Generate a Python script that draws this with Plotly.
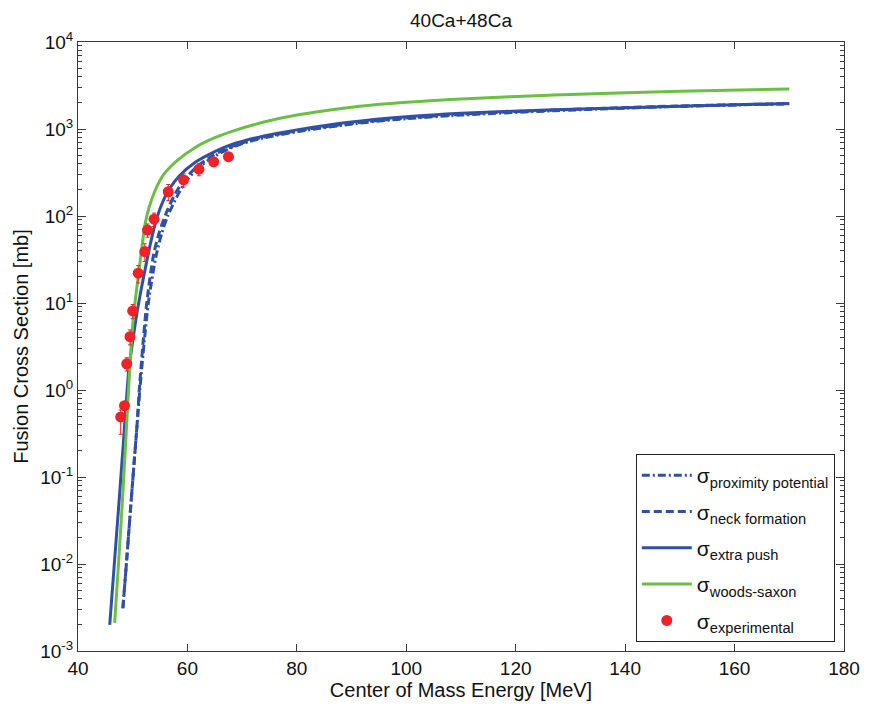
import plotly.graph_objects as go

# ---- data -----------------------------------------------------------------
# proximity potential model (dash-dot)
E_prox = [48.2, 48.9, 49.5, 50.2, 50.8, 51.3, 52.1, 52.9, 54.3, 55.3, 56.4, 58.4,
          60.0, 62.1, 64.5, 67.5, 71.0, 74.1, 80.2, 88.0, 96.4, 110.0, 127.0, 150.0, 170.0]
sig_prox = [0.0031, 0.0112, 0.0355, 0.132, 0.40, 1.0, 3.55, 10.5, 35.5, 63.0, 100.0, 182.0,
            263.0, 363.0, 468.0, 589.0, 708.0, 794.0, 933.0, 1096.0, 1259.0, 1445.0, 1622.0, 1820.0, 1950.0]

# neck formation model (dashed)
E_neck = [48.2, 48.9, 49.5, 50.2, 50.8, 51.2, 51.9, 52.6, 53.8, 54.8, 55.9, 57.8,
          59.5, 61.6, 64.0, 67.0, 70.5, 74.0, 80.0, 88.0, 96.4, 110.0, 127.0, 150.0, 170.0]
sig_neck = [0.0031, 0.0112, 0.0355, 0.132, 0.40, 1.0, 3.55, 10.5, 35.5, 63.0, 100.0, 182.0,
            263.0, 363.0, 468.0, 589.0, 708.0, 810.0, 950.0, 1120.0, 1280.0, 1480.0, 1650.0, 1840.0, 1960.0]

# extra push model (solid blue)
E_push = [45.8, 46.6, 47.5, 48.3, 49.3, 50.0, 50.6, 51.5, 52.4, 53.3, 54.2, 55.4, 56.6,
          58.5, 61.5, 65.0, 68.0, 74.0, 80.0, 90.0, 100.0, 110.0, 127.0, 150.0, 170.0]
sig_push = [0.0020, 0.0093, 0.052, 0.25, 1.74, 3.63, 6.6, 13.8, 26.9, 50.1, 85.1, 141.0, 200.0,
            288.0, 417.0, 550.0, 661.0, 832.0, 977.0, 1202.0, 1380.0, 1514.0, 1660.0, 1820.0, 1968.0]

# Woods-Saxon potential (solid green)
E_ws = [46.7, 47.4, 48.1, 48.8, 49.5, 50.0, 50.5, 51.0, 51.5, 52.0, 52.4, 53.0, 54.0, 54.9, 55.8,
        58.0, 61.5, 65.0, 68.0, 74.0, 80.0, 90.0, 96.4, 110.0, 127.0, 150.0, 170.0]
sig_ws = [0.0021, 0.010, 0.051, 0.316, 2.0, 5.6, 11.2, 20.0, 35.5, 63.0, 89.0, 126.0, 190.0, 251.0, 309.0,
          427.0, 617.0, 794.0, 933.0, 1202.0, 1445.0, 1778.0, 1950.0, 2213.0, 2455.0, 2723.0, 2877.0]

# measured fusion cross sections
E_exp = [47.8, 48.5, 48.9, 49.5, 50.0, 51.0, 52.2, 52.7, 53.9, 56.5, 59.3, 62.1, 64.8, 67.5]
sig_exp = [0.49, 0.66, 2.0, 4.1, 8.1, 22.0, 39.0, 69.0, 92.0, 190.0, 260.0, 345.0, 420.0, 480.0]
err_hi = [0.10, 0.08, 0.35, 0.8, 1.5, 5.0, 9.0, 12.0, 16.0, 40.0, 45.0, 55.0, 50.0, 50.0]
err_lo = [0.18, 0.08, 0.35, 0.8, 1.5, 5.0, 9.0, 12.0, 16.0, 40.0, 45.0, 55.0, 50.0, 50.0]

x_ticks = [40, 60, 80, 100, 120, 140, 160, 180]
y_exponents = [-3, -2, -1, 0, 1, 2, 3, 4]

# ---- styling --------------------------------------------------------------
BLUE = "#2f50a6"
GREEN = "#6cbf45"
RED = "#ee2228"
AXIS = "#3a3a3a"
FONT = "Liberation Sans, Arial, sans-serif"

fig = go.Figure()

fig.add_trace(go.Scatter(
    x=E_prox, y=sig_prox, mode="lines", name="σ<sub>proximity potential</sub>",
    line=dict(color=BLUE, width=3, dash="8px,3px,2px,3px", shape="spline", smoothing=0.8),
    legendgroup="a"))
fig.add_trace(go.Scatter(
    x=E_neck, y=sig_neck, mode="lines", name="σ<sub>neck formation</sub>",
    line=dict(color=BLUE, width=3, dash="8px,4px", shape="spline", smoothing=0.8),
    legendgroup="b"))
fig.add_trace(go.Scatter(
    x=E_push, y=sig_push, mode="lines", name="σ<sub>extra push</sub>",
    line=dict(color=BLUE, width=3, shape="spline", smoothing=0.8),
    legendgroup="c"))
fig.add_trace(go.Scatter(
    x=E_ws, y=sig_ws, mode="lines", name="σ<sub>woods-saxon</sub>",
    line=dict(color=GREEN, width=3, shape="spline", smoothing=0.8),
    legendgroup="d"))
fig.add_trace(go.Scatter(
    x=E_exp, y=sig_exp, mode="markers", name="σ<sub>experimental</sub>",
    marker=dict(color=RED, size=11, line=dict(width=0)),
    error_y=dict(type="data", symmetric=False, array=err_hi, arrayminus=err_lo,
                 color=RED, thickness=1, width=2),
    legendgroup="e"))

minor_vals = [m * 10 ** k for k in range(-3, 4) for m in range(2, 10)]

fig.update_layout(
    width=872, height=709,
    margin=dict(l=78, r=20, t=42, b=56),
    paper_bgcolor="white", plot_bgcolor="white",
    font=dict(family=FONT, size=19, color="#111111"),
    title=dict(text="40Ca+48Ca", x=0.5, xref="paper", y=1 - 20 / 709, yanchor="middle",
               font=dict(family=FONT, size=19, color="#111111")),
    showlegend=True,
    legend=dict(x=0.988, y=0.0147, xanchor="right", yanchor="bottom",
                bgcolor="white", bordercolor="#222222", borderwidth=1,
                font=dict(family=FONT, size=21, color="#111111"),
                tracegroupgap=6, itemwidth=50),
)

fig.update_xaxes(
    range=[40, 180], tickvals=x_ticks, ticktext=[str(v) for v in x_ticks],
    ticks="inside", ticklen=7, tickcolor=AXIS, showgrid=False, zeroline=False,
    showline=True, linecolor=AXIS, linewidth=1, mirror="ticks",
    tickfont=dict(family=FONT, size=19),
    title=dict(text="Center of Mass Energy [MeV]", standoff=4,
               font=dict(family=FONT, size=20)),
)

fig.update_yaxes(
    type="log", range=[-3, 4],
    tickvals=[10 ** e for e in y_exponents],
    ticktext=["10<sup>%d</sup>" % e for e in y_exponents],
    ticks="inside", ticklen=8, tickcolor=AXIS, showgrid=False, zeroline=False,
    showline=True, linecolor=AXIS, linewidth=1, mirror="ticks",
    tickfont=dict(family=FONT, size=19),
    minor=dict(tickvals=minor_vals, ticks="inside", ticklen=4, tickcolor=AXIS, showgrid=False),
    title=dict(text="Fusion Cross Section [mb]", standoff=6,
               font=dict(family=FONT, size=20)),
)

fig.write_html("out.html")
